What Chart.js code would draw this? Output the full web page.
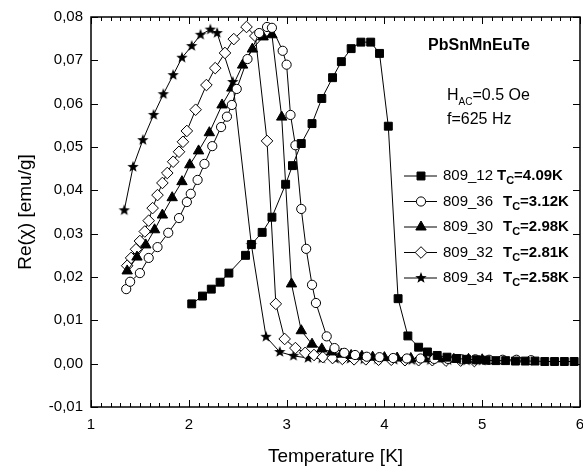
<!DOCTYPE html>
<html>
<head>
<meta charset="utf-8">
<script src="https://cdn.jsdelivr.net/npm/chart.js@4.4.1/dist/chart.umd.min.js"></script>
<style>
  body { margin: 0; background: #fff; }
  #wrap { width: 583px; height: 472px; }
</style>
</head>
<body>
<div id="wrap"><canvas id="chi"></canvas></div>
<script>
// 809_12  Tc=4.09K (filled squares)
const t12 = [2.03, 2.14, 2.23, 2.32, 2.41, 2.58, 2.64, 2.75, 2.85, 2.99, 3.06, 3.15, 3.26, 3.36, 3.47, 3.56, 3.66, 3.76, 3.86, 3.95, 4.04, 4.14, 4.24, 4.35, 4.44, 4.54, 4.64, 4.74, 4.84, 4.94, 5.04, 5.14, 5.24, 5.34, 5.44, 5.54, 5.64, 5.74, 5.84, 5.94];
const chi12 = [0.0138, 0.0156, 0.0172, 0.0188, 0.0209, 0.0250, 0.0275, 0.0303, 0.0338, 0.0414, 0.0457, 0.0508, 0.0554, 0.0612, 0.0660, 0.0697, 0.0727, 0.0742, 0.0742, 0.0716, 0.0548, 0.0150, 0.0064, 0.0038, 0.0027, 0.0019, 0.0015, 0.0012, 0.0010, 0.0009, 0.0008, 0.0007, 0.0007, 0.0006, 0.0006, 0.0006, 0.0005, 0.0005, 0.0005, 0.0005];

// 809_36  Tc=3.12K (open circles)
const t36 = [1.36, 1.40, 1.50, 1.59, 1.68, 1.79, 1.90, 1.98, 2.02, 2.09, 2.16, 2.24, 2.33, 2.39, 2.44, 2.49, 2.60, 2.72, 2.80, 2.85, 2.96, 3.00, 3.04, 3.09, 3.15, 3.20, 3.26, 3.30, 3.41, 3.49, 3.59, 3.70, 3.82, 3.95, 4.09, 4.23, 4.37, 4.51, 4.65, 4.79, 4.93, 5.07, 5.21, 5.35, 5.50];
const chi36 = [0.0172, 0.0189, 0.0209, 0.0244, 0.0269, 0.0302, 0.0336, 0.0373, 0.0392, 0.0424, 0.0461, 0.0502, 0.0546, 0.0570, 0.0597, 0.0634, 0.0703, 0.0763, 0.0777, 0.0775, 0.0722, 0.0690, 0.0574, 0.0504, 0.0357, 0.0265, 0.0182, 0.0140, 0.0063, 0.0036, 0.0025, 0.0020, 0.0016, 0.0015, 0.0013, 0.0012, 0.0012, 0.0011, 0.0011, 0.0010, 0.0010, 0.0009, 0.0009, 0.0009, 0.0008];

// 809_30  Tc=2.98K (filled triangles)
const t30 = [1.37, 1.47, 1.56, 1.65, 1.73, 1.83, 1.93, 2.01, 2.10, 2.21, 2.34, 2.44, 2.55, 2.65, 2.76, 2.85, 2.95, 3.05, 3.15, 3.26, 3.36, 3.46, 3.56, 3.66, 3.77, 3.88, 4.00, 4.13, 4.27, 4.41, 4.56, 4.71, 4.86, 5.00];
const chi30 = [0.0214, 0.0246, 0.0274, 0.0309, 0.0343, 0.0383, 0.0420, 0.0459, 0.0491, 0.0533, 0.0597, 0.0636, 0.0689, 0.0726, 0.0754, 0.0759, 0.0569, 0.0184, 0.0076, 0.0045, 0.0034, 0.0027, 0.0022, 0.0019, 0.0017, 0.0015, 0.0014, 0.0013, 0.0012, 0.0011, 0.0011, 0.0010, 0.0010, 0.0009];

// 809_32  Tc=2.81K (open diamonds)
const t32 = [1.37, 1.41, 1.46, 1.50, 1.55, 1.59, 1.63, 1.68, 1.73, 1.78, 1.84, 1.90, 1.94, 1.98, 2.07, 2.18, 2.27, 2.37, 2.46, 2.59, 2.68, 2.80, 2.89, 2.98, 3.09, 3.19, 3.28, 3.37, 3.47, 3.57, 3.69, 3.81, 3.94, 4.07, 4.21, 4.35, 4.49, 4.63, 4.78, 4.92];
const chi32 = [0.0226, 0.0244, 0.0264, 0.0283, 0.0305, 0.0330, 0.0359, 0.0389, 0.0417, 0.0440, 0.0466, 0.0489, 0.0512, 0.0537, 0.0586, 0.0643, 0.0682, 0.0717, 0.0749, 0.0777, 0.0756, 0.0514, 0.0138, 0.0057, 0.0036, 0.0025, 0.0020, 0.0015, 0.0013, 0.0011, 0.0010, 0.0010, 0.0009, 0.0009, 0.0008, 0.0008, 0.0008, 0.0007, 0.0007, 0.0006];

// 809_34  Tc=2.58K (filled stars)
const t34 = [1.34, 1.43, 1.53, 1.64, 1.74, 1.84, 1.93, 2.03, 2.12, 2.22, 2.29, 2.45, 2.64, 2.79, 2.93, 3.07, 3.22, 3.36, 3.50, 3.65, 3.79, 3.93, 4.10, 4.28, 4.47, 4.65, 4.84, 5.00];
const chi34 = [0.0354, 0.0454, 0.0516, 0.0574, 0.0622, 0.0666, 0.0706, 0.0733, 0.0759, 0.0771, 0.0763, 0.0650, 0.0274, 0.0062, 0.0027, 0.0018, 0.0013, 0.0012, 0.0011, 0.0011, 0.0010, 0.0010, 0.0009, 0.0008, 0.0008, 0.0008, 0.0007, 0.0007];

const seriesNames = ["809_12", "809_36", "809_30", "809_32", "809_34"];
const tcLabels = ["4.09K", "3.12K", "2.98K", "2.81K", "2.58K"];
const xTicks = [1, 2, 3, 4, 5, 6];
const yTicks = [-0.01, 0, 0.01, 0.02, 0.03, 0.04, 0.05, 0.06, 0.07, 0.08];

const FONT = "'Liberation Sans', Arial, sans-serif";
Chart.defaults.color = "#000";
Chart.defaults.font.family = FONT;

// filled five pointed star for 809_34
function makeStar(r) {
  const c = document.createElement("canvas");
  c.width = c.height = Math.ceil(2 * r + 2);
  const g = c.getContext("2d");
  const cx = c.width / 2, cy = c.height / 2;
  g.beginPath();
  for (let i = 0; i < 10; i++) {
    const rad = i % 2 === 0 ? r : r * 0.42;
    const a = -Math.PI / 2 + (i * Math.PI) / 5;
    g.lineTo(cx + rad * Math.cos(a), cy + rad * Math.sin(a));
  }
  g.closePath();
  g.fillStyle = "#000";
  g.fill();
  return c;
}
const starImg = makeStar(6);

function pts(ts, vs) {
  return ts.map((t, i) => ({ x: t, y: vs[i] }));
}

const styles = [
  { pointStyle: "rect", radius: 5.6, fill: "#000" },
  { pointStyle: "circle", radius: 4.6, fill: "#fff" },
  { pointStyle: "triangle", radius: 6, fill: "#000" },
  { pointStyle: "rectRot", radius: 5.8, fill: "#fff" },
  { pointStyle: starImg, radius: 6, fill: "#000" },
];

const allData = [pts(t12, chi12), pts(t36, chi36), pts(t30, chi30), pts(t32, chi32), pts(t34, chi34)];

const datasets = allData.map((d, i) => ({
  label: seriesNames[i],
  data: d,
  showLine: true,
  borderColor: "#000",
  borderWidth: 1,
  pointStyle: styles[i].pointStyle,
  pointRadius: styles[i].radius,
  pointBackgroundColor: styles[i].fill,
  pointBorderColor: "#000",
  pointBorderWidth: 1,
  tension: 0,
}));

// frame, inward ticks, legend and annotation texts
const decorPlugin = {
  id: "decor",
  afterDatasetsDraw(chart) {
    const ctx = chart.ctx;
    const a = chart.chartArea;
    const xs = chart.scales.x, ys = chart.scales.y;
    ctx.save();
    ctx.strokeStyle = "#000";
    ctx.lineWidth = 1.5;
    ctx.strokeRect(a.left, a.top, a.right - a.left, a.bottom - a.top);

    ctx.lineWidth = 1;
    ctx.beginPath();
    for (let k = 10; k <= 60; k++) {
      const px = Math.round(xs.getPixelForValue(k / 10)) + 0.5;
      const len = k % 10 === 0 ? 7 : 4;
      ctx.moveTo(px, a.bottom); ctx.lineTo(px, a.bottom - len);
      ctx.moveTo(px, a.top); ctx.lineTo(px, a.top + len);
    }
    yTicks.forEach((v) => {
      const py = Math.round(ys.getPixelForValue(v)) + 0.5;
      ctx.moveTo(a.left, py); ctx.lineTo(a.left + 7, py);
      ctx.moveTo(a.right, py); ctx.lineTo(a.right - 7, py);
    });
    ctx.stroke();

    // legend
    const rowY = [176, 201.5, 227, 252.5, 278];
    const tX = [497, 503, 503, 503, 503];
    ctx.textBaseline = "middle";
    rowY.forEach((y, i) => {
      ctx.strokeStyle = "#000";
      ctx.lineWidth = 1;
      ctx.beginPath();
      ctx.moveTo(404, y); ctx.lineTo(437, y);
      ctx.stroke();
      ctx.fillStyle = styles[i].fill;
      ctx.strokeStyle = "#000";
      Chart.helpers.drawPoint(ctx, {
        pointStyle: styles[i].pointStyle,
        radius: styles[i].radius,
        rotation: 0,
        borderWidth: 1,
      }, 421, y);
      ctx.fillStyle = "#000";
      ctx.font = "15px " + FONT;
      ctx.textAlign = "left";
      ctx.fillText(seriesNames[i], 443, y);
      ctx.font = "bold 15px " + FONT;
      ctx.fillText("T", tX[i], y);
      const tw = ctx.measureText("T").width;
      ctx.font = "bold 11px " + FONT;
      ctx.fillText("C", tX[i] + tw, y + 5);
      const cw = ctx.measureText("C").width;
      ctx.font = "bold 15px " + FONT;
      ctx.fillText("=" + tcLabels[i], tX[i] + tw + cw, y);
    });

    // sample and field texts
    ctx.font = "bold 16px " + FONT;
    ctx.textAlign = "center";
    ctx.fillText("PbSnMnEuTe", 479, 46);
    ctx.textAlign = "left";
    ctx.font = "16px " + FONT;
    ctx.fillText("H", 447, 96);
    const hw = ctx.measureText("H").width;
    ctx.font = "10px " + FONT;
    ctx.fillText("AC", 447 + hw, 102);
    const acw = ctx.measureText("AC").width;
    ctx.font = "16px " + FONT;
    ctx.fillText("=0.5 Oe", 447 + hw + acw, 96);
    ctx.fillText("f=625 Hz", 447, 120);
    ctx.restore();
  },
};

new Chart(document.getElementById("chi"), {
  type: "scatter",
  data: { datasets: datasets },
  plugins: [decorPlugin],
  options: {
    responsive: true,
    maintainAspectRatio: false,
    animation: false,
    layout: { autoPadding: false, padding: { left: 0, right: 3, top: 17, bottom: 0 } },
    plugins: {
      legend: { display: false },
      tooltip: { enabled: false },
    },
    scales: {
      x: {
        type: "linear",
        min: 1,
        max: 6,
        afterFit: (s) => { s.height = 65; s.paddingLeft = 0; s.paddingRight = 0; },
        afterBuildTicks: (s) => { s.ticks = xTicks.map((v) => ({ value: v })); },
        grid: { display: false, drawTicks: false },
        border: { display: false },
        ticks: { padding: 9, font: { size: 15 }, color: "#000", autoSkip: false, maxRotation: 0 },
        title: {
          display: true,
          text: "Temperature [K]",
          font: { size: 19 },
          color: "#000",
          padding: { top: 0, bottom: 4 },
        },
      },
      y: {
        type: "linear",
        min: -0.01,
        max: 0.08,
        afterFit: (s) => { s.width = 91; s.paddingTop = 0; s.paddingBottom = 0; },
        afterBuildTicks: (s) => { s.ticks = yTicks.map((v) => ({ value: v })); },
        grid: { display: false, drawTicks: false },
        border: { display: false },
        ticks: {
          padding: 8,
          font: { size: 15 },
          color: "#000",
          autoSkip: false,
          callback: (v) => v.toFixed(2).replace(".", ","),
        },
        title: {
          display: true,
          text: "Re(χ) [emu/g]",
          font: { size: 19 },
          color: "#000",
          padding: { top: 14, bottom: 0 },
        },
      },
    },
  },
});
</script>
</body>
</html>
